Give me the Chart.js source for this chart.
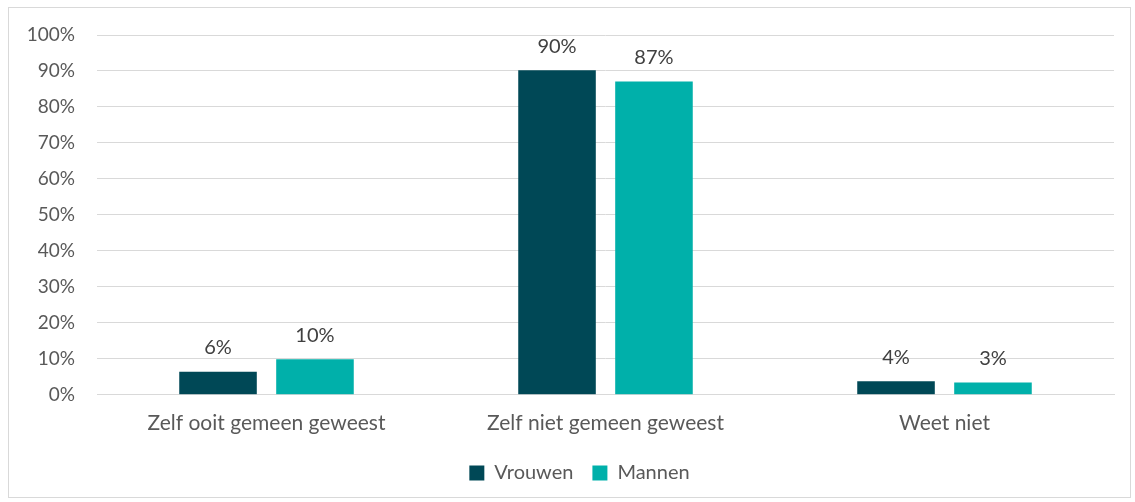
<!DOCTYPE html>
<html lang="nl">
<head>
  <meta charset="UTF-8">
  <title>Zelf gemeen geweest</title>
  <script src="https://cdn.jsdelivr.net/npm/chart.js"></script>
  <style>
    body {
      margin: 0;
      background: #fff;
      font-family: Lato, "Open Sans", sans-serif;
    }
    #wrap {
      position: absolute;
      left: 8px;
      top: 7px;
      width: 1121px;
      height: 489px;
      border: 1px solid #d9d9d9;
    }
  </style>
</head>
<body>

  <div id="wrap"><canvas id="chart"></canvas></div>

  <script>
    const categories = ['Zelf ooit gemeen geweest', 'Zelf niet gemeen geweest', 'Weet niet'];
    const vrouwen = [6.4, 90.2, 3.8];
    const mannen = [9.9, 87.1, 3.4];
    const yTicks = [0, 10, 20, 30, 40, 50, 60, 70, 80, 90, 100];

    const textColor = '#595959';
    const fontFamily = 'Lato, "Open Sans", sans-serif';

    // draws the % above each bar
    const valueLabels = {
      id: 'valueLabels',
      afterDatasetsDraw(chart) {
        const ctx = chart.ctx;
        ctx.save();
        ctx.font = '20px ' + fontFamily;
        ctx.fillStyle = '#404040';
        ctx.textAlign = 'center';
        ctx.textBaseline = 'middle';
        chart.data.datasets.forEach((ds, i) => {
          chart.getDatasetMeta(i).data.forEach((bar, j) => {
            ctx.fillText(Math.round(ds.data[j]) + '%', bar.x, bar.y - 24);
          });
        });
        ctx.restore();
      }
    };

    // legend sits a bit right of centre in the original
    const legendShift = {
      id: 'legendShift',
      afterLayout(chart) {
        chart.legend.left += 18;
        chart.legend.right += 18;
      }
    };

    new Chart(document.getElementById('chart'), {
      type: 'bar',
      data: {
        labels: categories,
        datasets: [
          { label: 'Vrouwen', data: vrouwen, backgroundColor: '#004856' },
          { label: 'Mannen', data: mannen, backgroundColor: '#00B0AA' }
        ]
      },
      options: {
        responsive: true,
        maintainAspectRatio: false,
        animation: false,
        categoryPercentage: 0.572,
        barPercentage: 0.8,
        layout: { padding: { top: 27, right: 16, left: 0, bottom: 4 } },
        plugins: {
          tooltip: { enabled: false },
          legend: {
            position: 'bottom',
            labels: {
              color: textColor,
              font: { size: 20, family: fontFamily },
              boxWidth: 15,
              boxHeight: 15,
              padding: 19
            }
          }
        },
        scales: {
          x: {
            grid: { display: false },
            border: { color: '#d9d9d9' },
            ticks: {
              color: textColor,
              font: { size: 21, family: fontFamily },
              padding: 8
            }
          },
          y: {
            min: 0,
            max: 100,
            afterFit(scale) {
              scale.width = 88;
              scale.paddingTop = 0;
              scale.paddingBottom = 0;
            },
            afterBuildTicks(scale) { scale.ticks = yTicks.map(v => ({ value: v })); },
            grid: { color: '#d9d9d9', drawTicks: false },
            border: { display: false },
            ticks: {
              color: textColor,
              font: { size: 19, family: fontFamily },
              padding: 22,
              callback: v => v + '%'
            }
          }
        }
      },
      plugins: [valueLabels, legendShift]
    });
  </script>

</body>
</html>
